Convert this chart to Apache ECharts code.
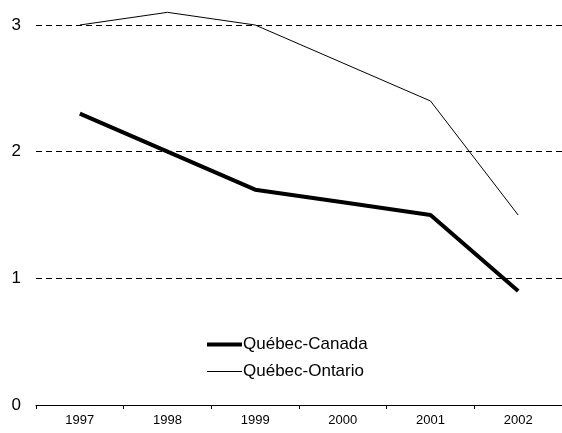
<!DOCTYPE html>
<html>
<head>
<meta charset="utf-8">
<script src="https://cdn.jsdelivr.net/npm/echarts@6/dist/echarts.min.js"></script>
<style>
  html, body { margin: 0; padding: 0; background: #fff; }
  #chart { width: 562px; height: 433px; }
</style>
</head>
<body>
<div id="chart"></div>
<script>
    var years = ['1997', '1998', '1999', '2000', '2001', '2002'];
    var quebecCanada = [2.3, 2.0, 1.7, 1.6, 1.5, 0.9];
    var quebecOntario = [3.0, 3.1, 3.0, 2.7, 2.4, 1.5];
    var seriesNames = ['Québec-Canada', 'Québec-Ontario'];

    var chart = echarts.init(document.getElementById('chart'));
    var option = {
        backgroundColor: '#fff',
        animation: false,
        textStyle: { fontFamily: 'Liberation Sans, Arial, sans-serif' },
        grid: {
            left: 36,
            right: -1,
            top: 25,
            bottom: 28,
            containLabel: false
        },
        legend: {
            orient: 'vertical',
            left: 200,
            top: 331,
            itemWidth: 35,
            itemHeight: 10,
            itemGap: 10,
            data: [
                { name: seriesNames[0], lineStyle: { width: 4, color: '#000' } },
                { name: seriesNames[1], lineStyle: { width: 1, color: '#000' } }
            ],
            itemStyle: { opacity: 0 },
            textStyle: {
                color: '#000',
                fontSize: 17,
                padding: [0, 0, 0, -4]
            }
        },
        xAxis: {
            type: 'category',
            data: years,
            boundaryGap: true,
            axisLine: { lineStyle: { color: '#000', width: 1 } },
            axisTick: { show: true, length: 4, lineStyle: { color: '#000' } },
            axisLabel: { color: '#000', fontSize: 13, margin: 9 },
            splitLine: { show: false }
        },
        yAxis: {
            type: 'value',
            min: 0,
            max: 3,
            interval: 1,
            axisLine: { show: false },
            axisTick: { show: false },
            axisLabel: { color: '#000', fontSize: 17, margin: 15 },
            splitLine: {
                show: true,
                lineStyle: { color: '#000', type: [6, 4], width: 1 }
            }
        },
        series: [{
            name: seriesNames[0],
            type: 'line',
            data: quebecCanada,
            symbol: 'none',
            clip: false,
            lineStyle: { color: '#000', width: 4 },
            itemStyle: { color: '#000' }
        }, {
            name: seriesNames[1],
            type: 'line',
            data: quebecOntario,
            symbol: 'none',
            clip: false,
            lineStyle: { color: '#000', width: 1 },
            itemStyle: { color: '#000' }
        }]
    };
    chart.setOption(option);
</script>
</body>
</html>
